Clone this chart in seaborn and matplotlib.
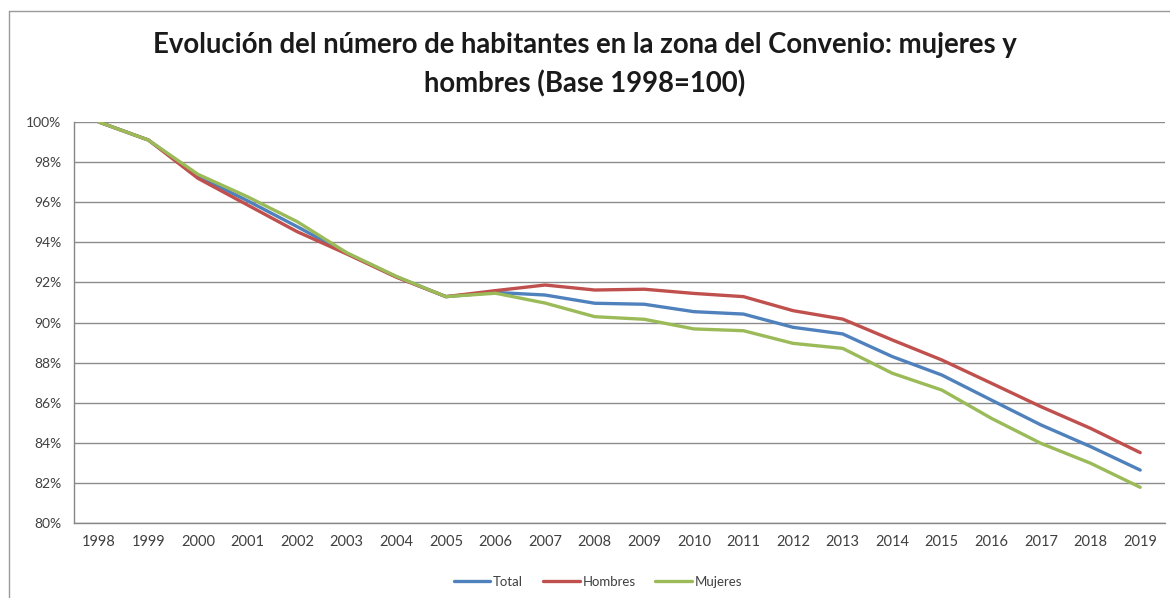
import pandas as pd
import numpy as np
import matplotlib
matplotlib.use('Agg')
import matplotlib.pyplot as plt
import seaborn as sns
from matplotlib.lines import Line2D
from matplotlib.ticker import FixedLocator, PercentFormatter

# values (base 1998 = 100)
years = [1998, 1999, 2000, 2001, 2002, 2003, 2004, 2005, 2006, 2007, 2008,
         2009, 2010, 2011, 2012, 2013, 2014, 2015, 2016, 2017, 2018, 2019]
total = [100.0, 99.1, 97.3, 96.07, 94.78, 93.45, 92.28, 91.29, 91.5, 91.37, 90.96,
         90.91, 90.54, 90.42, 89.76, 89.43, 88.3, 87.38, 86.13, 84.89, 83.81, 82.64]
hombres = [100.0, 99.1, 97.19, 95.86, 94.53, 93.42, 92.26, 91.29, 91.59, 91.87, 91.62,
           91.66, 91.45, 91.29, 90.59, 90.17, 89.13, 88.13, 86.97, 85.8, 84.72, 83.51]
mujeres = [100.0, 99.1, 97.39, 96.27, 95.03, 93.48, 92.3, 91.29, 91.46, 90.97, 90.29,
           90.16, 89.68, 89.59, 88.96, 88.71, 87.47, 86.63, 85.22, 83.97, 82.98, 81.78]
series = ['Total', 'Hombres', 'Mujeres']
colors = ['#4F81BD', '#C0504D', '#9BBB59']

df = pd.DataFrame({'pos': list(range(len(years))) * 3,
                   'valor': total + hombres + mujeres,
                   'serie': np.repeat(series, len(years))})

sns.set_style('white')
plt.rcParams['font.family'] = ['Lato', 'DejaVu Sans']

fig = plt.figure(figsize=(11.7, 5.98), dpi=100)
ax = fig.add_axes([74 / 1170, 1 - 523 / 598, (1165 - 74) / 1170, (523 - 122) / 598])

sns.lineplot(data=df, x='pos', y='valor', hue='serie', hue_order=series,
             palette=colors, linewidth=2.4, ax=ax, legend=False)

ax.set_xlim(-0.5, len(years) - 0.5)
ax.set_ylim(80, 100)
ax.set_yticks(np.arange(80, 101, 2))
ax.yaxis.set_major_formatter(PercentFormatter(decimals=0))
ax.set_xticks(range(len(years)))
ax.set_xticklabels(years)
ax.xaxis.set_minor_locator(FixedLocator(np.arange(-0.5, len(years), 1)))
ax.tick_params(axis='x', which='major', length=0, pad=9, labelsize=10.5, labelcolor='#404040')
ax.tick_params(axis='x', which='minor', length=4, width=0.9, color='#868686', direction='out')
ax.tick_params(axis='y', length=4, width=0.9, color='#868686', direction='out',
               pad=5, labelsize=10, labelcolor='#404040')
ax.set_xlabel('')
ax.set_ylabel('')
ax.grid(axis='y', color='#8c8c8c', linewidth=1)
ax.set_axisbelow(True)
for side in ['top', 'right']:
    ax.spines[side].set_visible(False)
for side in ['left', 'bottom']:
    ax.spines[side].set_color('#868686')
    ax.spines[side].set_linewidth(1)

fig.text(0.5, 1 - 65 / 598,
         'Evolución del número de habitantes en la zona del Convenio: mujeres y\nhombres (Base 1998=100)',
         ha='center', va='center', fontsize=19.8, fontweight='bold', color='#1a1a1a',
         linespacing=1.55)

handles = [Line2D([0], [0], color=c, linewidth=2.4) for c in colors]
fig.legend(handles, series, loc='center', bbox_to_anchor=(598 / 1170, 1 - 582 / 598),
           ncol=3, frameon=False, fontsize=9.5, handlelength=2.8, handletextpad=0.2,
           columnspacing=1.5, labelcolor='#404040')

# chart frame (left and top edges visible in the reference)
fig.add_artist(Line2D([9 / 1170, 9 / 1170], [0, 1 - 11 / 598], color='#9a9a9a', linewidth=1))
fig.add_artist(Line2D([9 / 1170, 1], [1 - 11 / 598, 1 - 11 / 598], color='#9a9a9a', linewidth=1))

fig.savefig('out.png', dpi=100)
